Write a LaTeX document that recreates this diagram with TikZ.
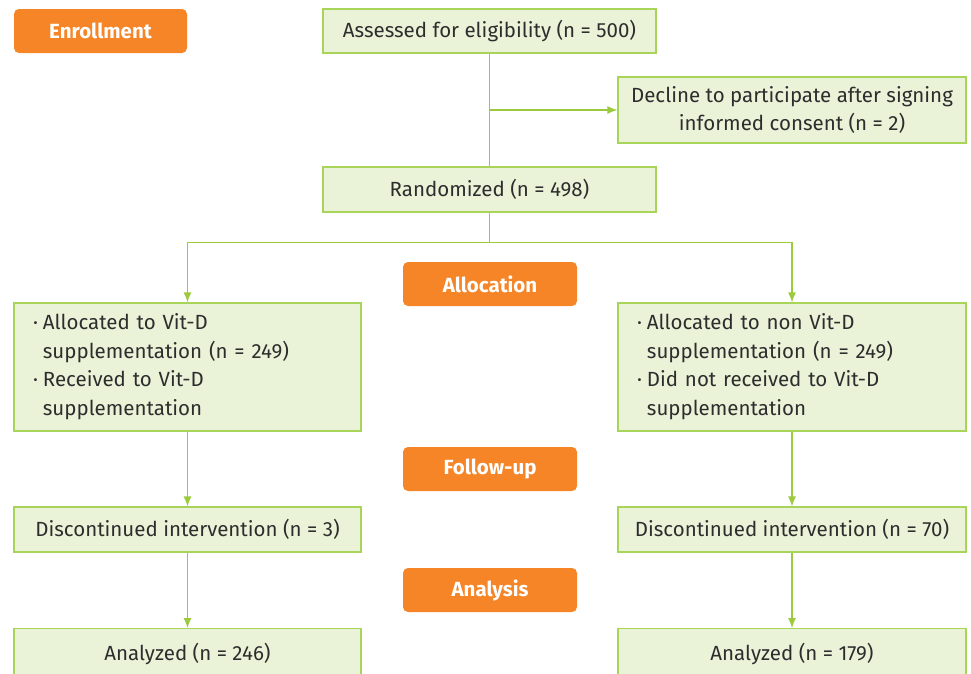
\documentclass[tikz,border=0pt]{standalone}
\usepackage{fontspec}
\setmainfont{Fira Sans}
\usetikzlibrary{arrows.meta}

\definecolor{boxfill}{RGB}{234,243,216}
\definecolor{boxline}{RGB}{169,212,90}
\definecolor{flowline}{RGB}{155,203,60}
\definecolor{stageorange}{RGB}{245,133,38}
\definecolor{txt}{RGB}{45,45,45}

\begin{document}
\begin{tikzpicture}[x=1pt,y=-1pt,
  box/.style={draw=boxline,fill=boxfill,line width=1.2pt,text=txt,
    inner sep=0pt,font=\fontsize{20.5}{28.5}\selectfont,align=center},
  stage/.style={fill=stageorange,rounded corners=5pt,text=white,
    minimum width=174,minimum height=44,inner sep=0pt,
    font=\fontsize{20.5}{24}\selectfont\bfseries},
  flow/.style={draw=flowline,line width=1.2pt},
  tip/.style={flow,-{Latex[length=10pt,width=8pt]}}]
\useasboundingbox (0,0) rectangle (971,673);

% stages
\node[stage,minimum width=173] (enroll) at (100.5,31) {Enrollment};
\node[stage] (alloc) at (490,284) {Allocation};
\node[stage] (follow) at (490,469) {Follow-up};
\node[stage] (analysis) at (490,590) {Analysis};

% enrollment part
\node[box,minimum width=333,minimum height=44] (assess) at (489.5,31) {Assessed for eligibility (n = 500)};
\node[box,minimum width=348,minimum height=66] (decline) at (792,110) {Decline to participate after signing\\informed consent (n = 2)};
\node[box,minimum width=333,minimum height=45] (rand) at (489.5,189.5) {Randomized (n = 498)};

% two arms
\node[box,minimum height=128,text width=309,inner xsep=19pt,align=left] (armL) at (187.5,367)
  {\begin{tabular}{@{}l@{\hspace{5pt}}l@{}}
   · & Allocated to Vit-D\\
     & supplementation (n = 249)\\
   · & Received to Vit-D\\
     & supplementation
   \end{tabular}};
\node[box,minimum height=128,text width=310,inner xsep=19pt,align=left] (armR) at (792,367)
  {\begin{tabular}{@{}l@{\hspace{5pt}}l@{}}
   · & Allocated to non Vit-D\\
     & supplementation (n = 249)\\
   · & Did not received to Vit-D\\
     & supplementation
   \end{tabular}};

\node[box,minimum width=347,minimum height=45] (discL) at (187.5,529.5) {Discontinued intervention (n = 3)};
\node[box,minimum width=348,minimum height=45] (discR) at (792,529.5) {Discontinued intervention (n = 70)};
% bottom boxes run past the page edge
\node[box,minimum width=347,minimum height=50,anchor=north] (anaL) at (187.5,628) {Analyzed (n = 246)};
\node[box,minimum width=348,minimum height=50,anchor=north] (anaR) at (792,628) {Analyzed (n = 179)};

% connectors
\draw[flow] (assess.south) -- (rand.north);
\draw[tip] (assess.south |- decline.west) -- (decline.west);
\draw[tip] (rand.south) -- ++(0,30) -| (armL.north);
\draw[tip] (rand.south) -- ++(0,30) -| (armR.north);
\draw[tip] (armL.south) -- (discL.north);
\draw[tip] (armR.south) -- (discR.north);
\draw[tip] (discL.south) -- (anaL.north);
\draw[tip] (discR.south) -- (anaR.north);
\end{tikzpicture}
\end{document}
